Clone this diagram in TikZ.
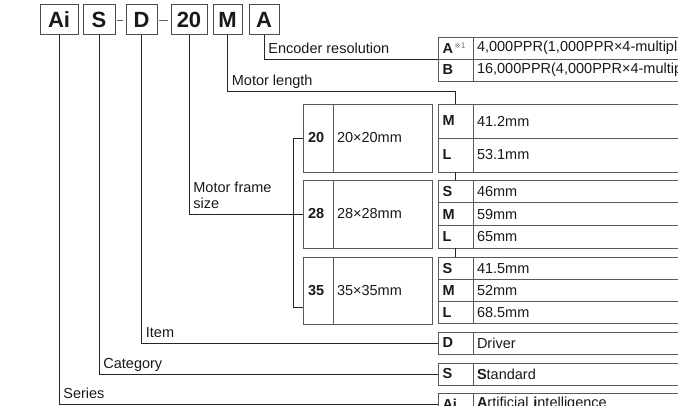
\documentclass[tikz,border=0pt]{standalone}
\usepackage{fontspec}
\setmainfont{Liberation Sans}
\newfontfamily\refmarkfont{DejaVu Sans}
\usetikzlibrary{positioning}

\begin{document}
\begin{tikzpicture}[x=1pt,y=-1pt,
    codebox/.style={draw=black!70, line width=1pt, minimum width=#1, minimum height=30pt,
      inner sep=0pt, outer sep=0pt, text=black!90, font=\fontsize{22}{22}\selectfont\bfseries},
    keycell/.style={draw=black!65, line width=0.9pt, text width=26pt, inner xsep=4.5pt,
      inner ysep=0pt, outer sep=0pt, minimum height=#1, align=left, text=black!90,
      font=\fontsize{14.5}{16}\selectfont\bfseries},
    valcell/.style={draw=black!65, line width=0.9pt, text width=320pt, inner xsep=4pt,
      inner ysep=0pt, outer sep=0pt, minimum height=#1, align=left, text=black!90,
      font=\fontsize{14.5}{16}\selectfont},
    sizekey/.style={keycell=#1, text width=20pt, inner xsep=5pt},
    sizeval/.style={valcell=#1, text width=91pt},
    link/.style={draw=black!85, line width=0.8pt},
    hyphen/.style={draw=black!60, line width=0.8pt, shorten <=2pt, shorten >=3pt},
    lbl/.style={anchor=base west, inner sep=0pt, xshift=4pt, yshift=5.5pt, text=black!90,
      font=\fontsize{14.5}{16}\selectfont}]
  \clip (0,0) rectangle (678,406);

  % Model code boxes
  \node[codebox=38pt, anchor=north west] (codeAi) at (40,5) {Ai};
  \node[codebox=32pt, right=5pt of codeAi] (codeS) {S};
  \node[codebox=31pt, right=11pt of codeS] (codeD) {D};
  \node[codebox=36pt, right=14pt of codeD] (code20) {20};
  \node[codebox=29pt, right=6pt of code20] (codeM) {M};
  \node[codebox=30pt, right=7pt of codeM] (codeA) {A};
  \draw[hyphen] (codeS.east) -- (codeD.west);
  \draw[hyphen] (codeD.east) -- (code20.west);

  % Encoder resolution
  \node[keycell=22pt, anchor=north west] (encA) at (438,37)
    {A\hspace{1.5pt}\raisebox{5pt}{\fontsize{7.5}{7.5}\selectfont\mdseries\color{black!55}\refmarkfont ※1}};
  \node[valcell=22pt, right=0pt of encA] (encAv) {4,000PPR(1,000PPR×4-multiplication)};
  \node[keycell=22pt, below=0pt of encA] (encB) {B};
  \node[valcell=22pt, right=0pt of encB] (encBv) {16,000PPR(4,000PPR×4-multiplication)};

  % Motor frame size
  \node[sizekey=68pt, anchor=north west] (size20) at (303,104) {20};
  \node[sizeval=68pt, right=0pt of size20] (size20v) {20×20mm};
  \node[sizekey=68pt, anchor=north west] (size28) at (303,180) {28};
  \node[sizeval=68pt, right=0pt of size28] (size28v) {28×28mm};
  \node[sizekey=67pt, anchor=north west] (size35) at (303,257) {35};
  \node[sizeval=67pt, right=0pt of size35] (size35v) {35×35mm};

  % Motor length
  \node[keycell=34pt, anchor=north west] (len20M) at (438,104) {M};
  \node[valcell=34pt, right=0pt of len20M] (len20Mv) {41.2mm};
  \node[keycell=34pt, below=0pt of len20M] (len20L) {L};
  \node[valcell=34pt, right=0pt of len20L] (len20Lv) {53.1mm};

  \node[keycell=22.7pt, anchor=north west] (len28S) at (438,180) {S};
  \node[valcell=22.7pt, right=0pt of len28S] (len28Sv) {46mm};
  \node[keycell=22.7pt, below=0pt of len28S] (len28M) {M};
  \node[valcell=22.7pt, right=0pt of len28M] (len28Mv) {59mm};
  \node[keycell=22.7pt, below=0pt of len28M] (len28L) {L};
  \node[valcell=22.7pt, right=0pt of len28L] (len28Lv) {65mm};

  \node[keycell=22.3pt, anchor=north west] (len35S) at (438,257) {S};
  \node[valcell=22.3pt, right=0pt of len35S] (len35Sv) {41.5mm};
  \node[keycell=22.3pt, below=0pt of len35S] (len35M) {M};
  \node[valcell=22.3pt, right=0pt of len35M] (len35Mv) {52mm};
  \node[keycell=22.3pt, below=0pt of len35M] (len35L) {L};
  \node[valcell=22.3pt, right=0pt of len35L] (len35Lv) {68.5mm};

  % Item, category, series
  \node[keycell=22pt, anchor=north west] (itemD) at (438,332) {D};
  \node[valcell=22pt, right=0pt of itemD] (itemDv) {Driver};
  \node[keycell=22pt, anchor=north west] (catS) at (438,363) {S};
  \node[valcell=22pt, right=0pt of catS] (catSv) {\textbf{S}tandard};
  \node[keycell=22pt, anchor=north west] (serAi) at (438,393) {Ai};
  \node[valcell=22pt, right=0pt of serAi] (serAiv) {\textbf{A}rtificial \textbf{i}ntelligence};

  % Leader lines
  \draw[link] (codeA.south) |- node[lbl, pos=0.5] {Encoder resolution} (encA.south west);
  \draw[link] (codeM.south) |- node[lbl, pos=0.5] {Motor length} ([yshift=13pt]len20M.north) -- (len20M.north);
  \draw[link] (len20L.south) -- (len28S.north);
  \draw[link] (len28L.south) -- (len35S.north);
  \draw[link] (code20.south) |- node[lbl, pos=0.5, anchor=south west, yshift=-1pt, align=left] {Motor frame\\size} (size28.west);
  \draw[link] (size20.west) -- ++(-10,0) |- ([yshift=-16.5pt]size35.west);
  \draw[link] (codeD.south) |- node[lbl, pos=0.5] {Item} (itemD.west);
  \draw[link] (codeS.south) |- node[lbl, pos=0.5] {Category} (catS.west);
  \draw[link] (codeAi.south) |- node[lbl, pos=0.5] {Series} (serAi.west);
\end{tikzpicture}
\end{document}
